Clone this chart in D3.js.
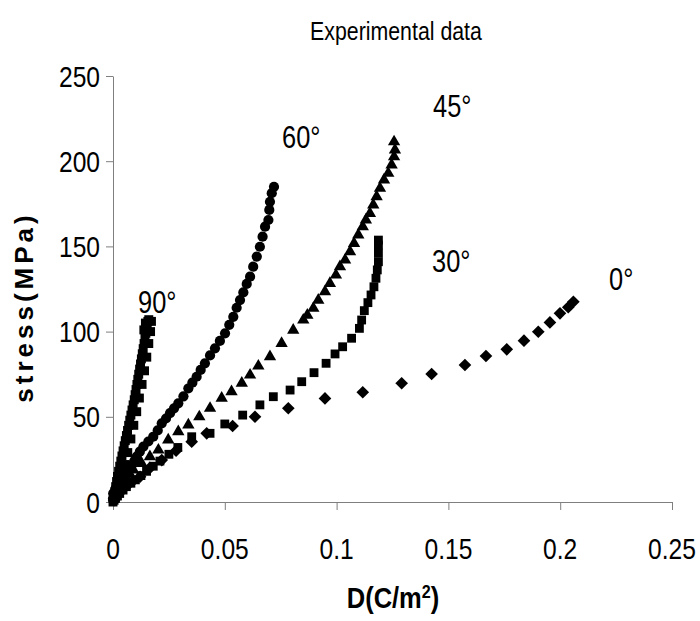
<!DOCTYPE html>
<html>
<head>
<meta charset="utf-8">
<script src="https://cdn.jsdelivr.net/npm/d3@7/dist/d3.min.js"></script>
<style>
  html, body { margin: 0; padding: 0; background: #fff; }
  svg { display: block; }
</style>
</head>
<body>
<svg id="chart" width="700" height="621"></svg>
<script>
// ---- data ----
const xTicks = [0, 0.05, 0.1, 0.15, 0.2, 0.25];
const xTickLabels = ["0", "0.05", "0.1", "0.15", "0.2", "0.25"];
const yTicks = [0, 50, 100, 150, 200, 250];
const yTickLabels = ["0", "50", "100", "150", "200", "250"];

const seriesNames = ["0°", "30°", "45°", "60°", "90°"];

const deg0 = [[0.0005,1],[0.001,2.5],[0.002,4],[0.003,5.5],[0.004,7],[0.0055,9],[0.007,10.5],[0.009,12.5],[0.0121,14.8],[0.0165,20],[0.0218,24.6],[0.0282,30.1],[0.0352,35.4],[0.0419,40.3],[0.0535,44.6],[0.0635,50],[0.0784,55],[0.0948,60.8],[0.1117,64.4],[0.1291,69.7],[0.1425,75.1],[0.1574,80.4],[0.1668,85.7],[0.1761,89.6],[0.1838,94.7],[0.1902,99.9],[0.1954,105.4],[0.1999,110.7],[0.2036,114.3],[0.2059,117.5]];

const deg30 = [[0.0005,1],[0.001,2],[0.002,3.5],[0.003,5],[0.0045,7],[0.006,9],[0.008,11],[0.01,13],[0.0125,15.5],[0.015,18],[0.018,21],[0.021,24],[0.025,28],[0.029,32],[0.0352,38.3],[0.0434,40.3],[0.05,45.8],[0.058,51],[0.0657,57],[0.0717,61.8],[0.0792,65.7],[0.0844,70.6],[0.0899,75.9],[0.0953,81.4],[0.0993,86.9],[0.1027,91.1],[0.1067,96.1],[0.1102,101.9],[0.1112,106.8],[0.1124,112.3],[0.114,117],[0.1154,121.5],[0.1167,126.3],[0.1176,131.3],[0.1182,136.2],[0.1187,141],[0.1187,146],[0.1187,150.8],[0.1187,153.7]];

const deg45 = [[0.0005,2],[0.0015,5],[0.003,8],[0.0045,11],[0.006,14],[0.0075,16.5],[0.0091,18.8],[0.0128,22.7],[0.0165,26.6],[0.0203,30.5],[0.0247,36.4],[0.0292,41.3],[0.0337,45.2],[0.0386,50],[0.0434,55],[0.0486,60.9],[0.053,64.7],[0.0576,69.7],[0.0613,74.5],[0.065,79.8],[0.0702,85.3],[0.0754,93.1],[0.0806,100.9],[0.0851,106.8],[0.0869,109.7],[0.0896,113.7],[0.0918,118.5],[0.0948,123.4],[0.097,128.3],[0.0997,133.2],[0.1015,138.1],[0.1038,142],[0.106,146.9],[0.1078,151.8],[0.1097,156.7],[0.1117,161.6],[0.1131,165.5],[0.1149,169.4],[0.1164,174.3],[0.1179,179.2],[0.1194,184.1],[0.1212,189],[0.1231,192.9],[0.1246,197.8],[0.1257,202.6],[0.1261,206.6],[0.1257,211.4]];

const deg60 = [[0,2],[0.0001,5],[0.0012,8],[0.0024,11],[0.004,14],[0.0054,16.8],[0.007,19],[0.0084,21.7],[0.0095,24],[0.0106,26.6],[0.012,29.5],[0.0136,32.5],[0.0158,35.5],[0.018,38.3],[0.02,42],[0.0218,46.2],[0.0237,49],[0.0255,52.1],[0.0273,55],[0.0292,57.9],[0.0315,62],[0.0337,66.7],[0.0355,70],[0.0374,73.5],[0.0392,77.5],[0.0411,81.4],[0.0434,86],[0.0456,90.2],[0.0478,94.5],[0.0501,99],[0.052,104],[0.0538,108.7],[0.0553,114],[0.0568,118.5],[0.0583,123],[0.0598,128],[0.0613,132.2],[0.0627,138.1],[0.0643,144],[0.0657,149.8],[0.0669,155.7],[0.068,161.6],[0.0695,165.5],[0.0699,171.4],[0.0702,176.2],[0.071,181.2],[0.072,185]];

const deg90 = [[0,0],[0.0004,3],[0.0008,6],[0.0012,9],[0.0016,12],[0.002,15],[0.0025,18],[0.003,21],[0.0035,24],[0.004,27],[0.0045,30],[0.005,33],[0.0055,36],[0.006,39],[0.0065,42],[0.007,45],[0.0075,48],[0.008,51],[0.0085,54],[0.009,57],[0.0095,60],[0.0099,63],[0.0103,66],[0.0107,69],[0.0111,72],[0.0115,75],[0.0119,78],[0.0123,81],[0.0127,84],[0.0131,87],[0.0135,90],[0.0139,93],[0.0143,96],[0.0147,99],[0.015,102],[0.0153,104],[0.0156,106],[0.016,107],
  [0.0025,8],[0.0038,15],[0.0052,22],[0.0066,29],[0.008,37],[0.0093,45],[0.0106,53],[0.0118,61],[0.013,69],[0.0141,77],[0.0151,85],[0.016,93],[0.0168,100],[0.0172,106],[0.0145,105],[0.0138,101]];

// ---- layout ----
const svg = d3.select("#chart");
const FONT = "'Liberation Sans', Arial, sans-serif";
const SQ = 0.82; // horizontal condensing of the narrow typeface

function ntext(x, y, anchor, txt, size, weight, sq) {
  const g = svg.append("g").attr("transform", `translate(${x},${y}) scale(${sq || SQ},1)`);
  return g.append("text").attr("text-anchor", anchor)
    .style("font-family", FONT).style("font-size", size + "px")
    .style("font-weight", weight || "normal").attr("fill", "#000").text(txt);
}

const x = d3.scaleLinear().domain([0, 0.25]).range([113, 672]);
const y = d3.scaleLinear().domain([0, 250]).range([502, 76]);

const axisColor = "#7f7f7f";

const gx = svg.append("g").attr("transform", `translate(0,${y(0)})`)
  .call(d3.axisBottom(x).tickValues(xTicks).tickSize(8).tickSizeOuter(0).tickFormat(""));
const gy = svg.append("g").attr("transform", `translate(${x(0)},0)`)
  .call(d3.axisLeft(y).tickValues(yTicks).tickSize(7).tickSizeOuter(0).tickFormat(""));

[gx, gy].forEach(g => {
  g.select(".domain").attr("stroke", axisColor).attr("stroke-width", 1);
  g.selectAll(".tick line").attr("stroke", axisColor).attr("stroke-width", 1);
});

xTicks.forEach((v, i) => ntext(x(v), 559, "middle", xTickLabels[i], 30));
yTicks.forEach((v, i) => ntext(100, y(v) + 10.5, "end", yTickLabels[i], 30));

// ---- markers ----
const markers = [
  { data: deg0,  path: d3.symbol(d3.symbolSquare, 80)(), rotate: 45 },
  { data: deg30, path: d3.symbol(d3.symbolSquare, 78)(), rotate: 0 },
  { data: deg45, path: d3.symbol(d3.symbolTriangle, 66)(), rotate: 0 },
  { data: deg60, path: d3.symbol(d3.symbolCircle, 82)(), rotate: 0 },
  { data: deg90, path: d3.symbol(d3.symbolSquare, 80)(), rotate: 0 }
];

markers.forEach(m => {
  svg.append("g").selectAll("path").data(m.data).join("path")
    .attr("d", m.path)
    .attr("fill", "#000")
    .attr("transform", d => `translate(${x(d[0])},${y(d[1])}) rotate(${m.rotate})`);
});

// ---- series labels ----
const labelPos = [[609, 290], [432, 272], [433, 117], [282, 148], [138, 313]];
seriesNames.forEach((s, i) => ntext(labelPos[i][0], labelPos[i][1], "start", s, 31));

// ---- titles ----
ntext(396, 40, "middle", "Experimental data", 26);

const xt = ntext(393, 608, "middle", "D(C/m", 30, "bold", 0.85);
xt.append("tspan").attr("dy", -10).style("font-size", "19px").text("2");
xt.append("tspan").attr("dy", 10).text(")");

svg.append("text").attr("transform", "translate(33,307) rotate(-90)").attr("text-anchor", "middle")
  .style("font-family", FONT).style("font-size", "26px")
  .style("font-weight", "bold").style("letter-spacing", "4px").text("stress(MPa)");
</script>
</body>
</html>
